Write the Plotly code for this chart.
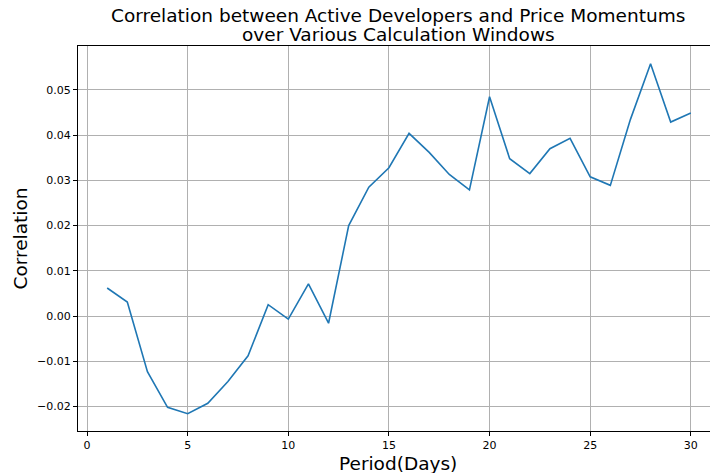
import plotly.graph_objects as go

periods = list(range(1, 31))
correlation = [0.0062, 0.0031, -0.0123, -0.0202, -0.0216, -0.0193, -0.0145, -0.0088,
               0.0025, -0.0007, 0.0071, -0.0016, 0.0200, 0.0285, 0.0328, 0.0404,
               0.0362, 0.0313, 0.0279, 0.0485, 0.0348, 0.0315, 0.0370, 0.0393,
               0.0308, 0.0289, 0.0435, 0.0558, 0.0429, 0.0449]
x_ticks = [0, 5, 10, 15, 20, 25, 30]
y_ticks = [-0.02, -0.01, 0.00, 0.01, 0.02, 0.03, 0.04, 0.05]
title_lines = ["Correlation between Active Developers and Price Momentums",
               "over Various Calculation Windows"]
x_label = "Period(Days)"
y_label = "Correlation"

fig = go.Figure()
fig.add_trace(go.Scatter(x=periods, y=correlation, mode="lines",
                         line=dict(color="#1f77b4", width=1.6), showlegend=False))

font_family = "DejaVu Sans"
# the reference figure is cropped on the right: draw it 720 wide and let the 710 window clip it
fig.update_layout(
    width=720, height=473,
    margin=dict(l=78, r=0, t=46, b=42, autoexpand=False),
    paper_bgcolor="white", plot_bgcolor="white",
    font=dict(family=font_family, color="black", size=11),
)
fig.update_xaxes(range=[-0.45, 31.45], tickvals=x_ticks, ticks="outside", ticklen=4,
                 tickcolor="black", showgrid=True, gridcolor="#b0b0b0", gridwidth=1,
                 showline=True, linecolor="black", linewidth=1, mirror=True,
                 zeroline=False, automargin=False)
fig.update_yaxes(range=[-0.02544, 0.05973], tickvals=y_ticks, tickformat=".2f",
                 ticks="outside", ticklen=4, tickcolor="black",
                 showgrid=True, gridcolor="#b0b0b0", gridwidth=1,
                 showline=True, linecolor="black", linewidth=1, mirror=True,
                 zeroline=False, automargin=False)

ann_font = dict(family=font_family, size=18.5, color="black")
fig.add_annotation(text=title_lines[0], xref="paper", yref="paper", x=0.5, y=1,
                   xshift=-1, yshift=31, xanchor="center", yanchor="middle",
                   showarrow=False, font=ann_font)
fig.add_annotation(text=title_lines[1], xref="paper", yref="paper", x=0.5, y=1,
                   xshift=-1, yshift=12, xanchor="center", yanchor="middle",
                   showarrow=False, font=ann_font)
fig.add_annotation(text=x_label, xref="paper", yref="paper", x=0.5, y=0,
                   xshift=-1, yshift=-32, xanchor="center", yanchor="middle",
                   showarrow=False, font=ann_font)
fig.add_annotation(text=y_label, xref="paper", yref="paper", x=0, y=0.5,
                   xshift=-58, xanchor="center", yanchor="middle", textangle=-90,
                   showarrow=False, font=ann_font)

fig.write_html("out.html", config={"displayModeBar": False},
               post_script="document.body.style.margin='0';document.body.style.overflow='hidden';")
